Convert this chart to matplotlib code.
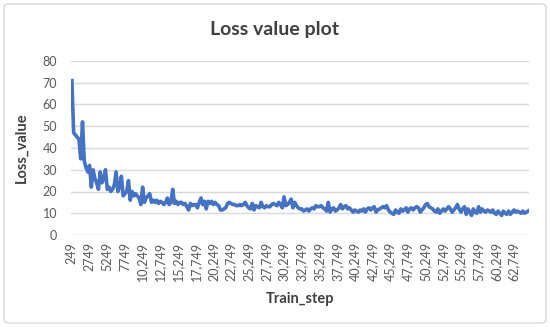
import matplotlib
matplotlib.use("Agg")
import matplotlib.pyplot as plt
from matplotlib.patches import FancyBboxPatch

# training steps every 250, loss
first_step = 249
step_size = 250
loss_values = [
    71, 47, 46, 45, 44, 35, 52, 34, 31, 29,
    32, 22, 30, 26, 24, 21, 29, 24, 26, 30,
    21, 22, 20, 21, 23, 29, 20, 22, 27, 18,
    19, 20, 25, 16, 20, 18, 19, 18, 17, 14,
    22, 15, 17, 18, 19, 15, 16, 15, 16, 14.5,
    15.5, 15, 14, 15, 17, 14, 15, 21, 14.5, 15.5,
    14, 15, 15, 14, 14.5, 13, 11.5, 14.5, 13.5, 14,
    14, 12.5, 15, 17, 14, 15.5, 12, 15.5, 14.5, 15.5,
    14, 15, 14, 13.5, 11.5, 11.5, 12, 12.5, 14.5, 15,
    14.5, 14, 14, 13.5, 13.5, 14, 13.5, 14, 15, 13.5,
    12.5, 12, 14.5, 11.5, 13.5, 13, 12.5, 15, 13, 12.5,
    13.5, 13, 13, 14, 14.5, 14, 13.5, 15, 14, 12.5,
    17.5, 13.5, 14, 15, 16.5, 12.5, 15, 13.5, 12.5, 12,
    12, 11, 11.5, 12, 11, 12, 12.5, 12, 13.5, 13,
    13, 13.5, 12.5, 12, 11, 15, 10.5, 12, 12.5, 11,
    11.5, 12.5, 14, 12, 13, 13.5, 12, 12.5, 11.5, 10.5,
    11.5, 11, 10.5, 11.5, 11, 12, 10.5, 12, 12.5, 11.5,
    12.5, 13, 10.5, 11.5, 12, 12.5, 13, 12.5, 13.5, 11.5,
    10.5, 10, 9.5, 11.5, 10.5, 10, 12, 11, 11.5, 12.5,
    10.5, 12, 12.5, 11.5, 12.5, 13, 12.5, 10.5, 11.5, 12.5,
    14, 14.5, 13, 12.5, 12, 11, 10.5, 12, 10, 11,
    12, 11, 12, 13, 12, 10.5, 11.5, 12.5, 14, 12,
    10.5, 12, 13, 9.5, 12, 10.5, 9, 12, 10.5, 10,
    13, 10.5, 12, 11, 10.5, 11.5, 11, 10.5, 11.5, 10,
    9.5, 11, 10, 9, 11, 10, 9.5, 11, 9.5, 10.5,
    11.5, 10.5, 11, 10.5, 10, 11, 10, 10.5, 11,
]
steps = [first_step + step_size * i for i in range(len(loss_values))]
tick_labels = [f"{s:,}" if s >= 10000 else str(s) for s in steps]
y_ticks = [0, 10, 20, 30, 40, 50, 60, 70, 80]

text_color = "#595959"
grid_color = "#d9d9d9"
line_color = "#4472c4"

plt.rcParams["font.family"] = ["Lato", "DejaVu Sans"]

fig = plt.figure(figsize=(5.5, 3.27), dpi=100)
ax = fig.add_axes([71 / 550, 1 - 235 / 327, (529 - 71) / 550, (235 - 61) / 327])

positions = list(range(len(loss_values)))
ax.plot(positions, loss_values, color=line_color, linewidth=2.6,
        solid_joinstyle="round", zorder=3)

ax.set_xlim(-0.5, len(loss_values) - 0.5)
ax.set_ylim(0, 80)
ax.set_yticks(y_ticks)
ax.set_xticks(positions[::10])
ax.set_xticklabels(tick_labels[::10], rotation=90)
ax.tick_params(axis="both", length=0, labelsize=9, colors=text_color)
ax.tick_params(axis="y", pad=10)
ax.tick_params(axis="x", pad=5)
ax.grid(axis="y", color=grid_color, linewidth=1, zorder=0)
for spine in ax.spines.values():
    spine.set_visible(False)

ax.set_xlabel("Train_step", fontsize=10.5, fontweight="bold", color="#404040",
              labelpad=8)
ax.set_ylabel("Loss_value", fontsize=10.5, fontweight="bold", color="#404040",
              labelpad=10)
fig.text(0.5, 1 - 30 / 327, "Loss value plot", ha="center", va="center",
         fontsize=14, fontweight="bold", color="#404040")

border = FancyBboxPatch((4 / 550, 4 / 327), 542 / 550, 319 / 327,
                        boxstyle="round,pad=0,rounding_size=0.01",
                        transform=fig.transFigure, facecolor="none",
                        edgecolor=grid_color, linewidth=1)
fig.patches.append(border)

fig.savefig("out.png", dpi=100)
